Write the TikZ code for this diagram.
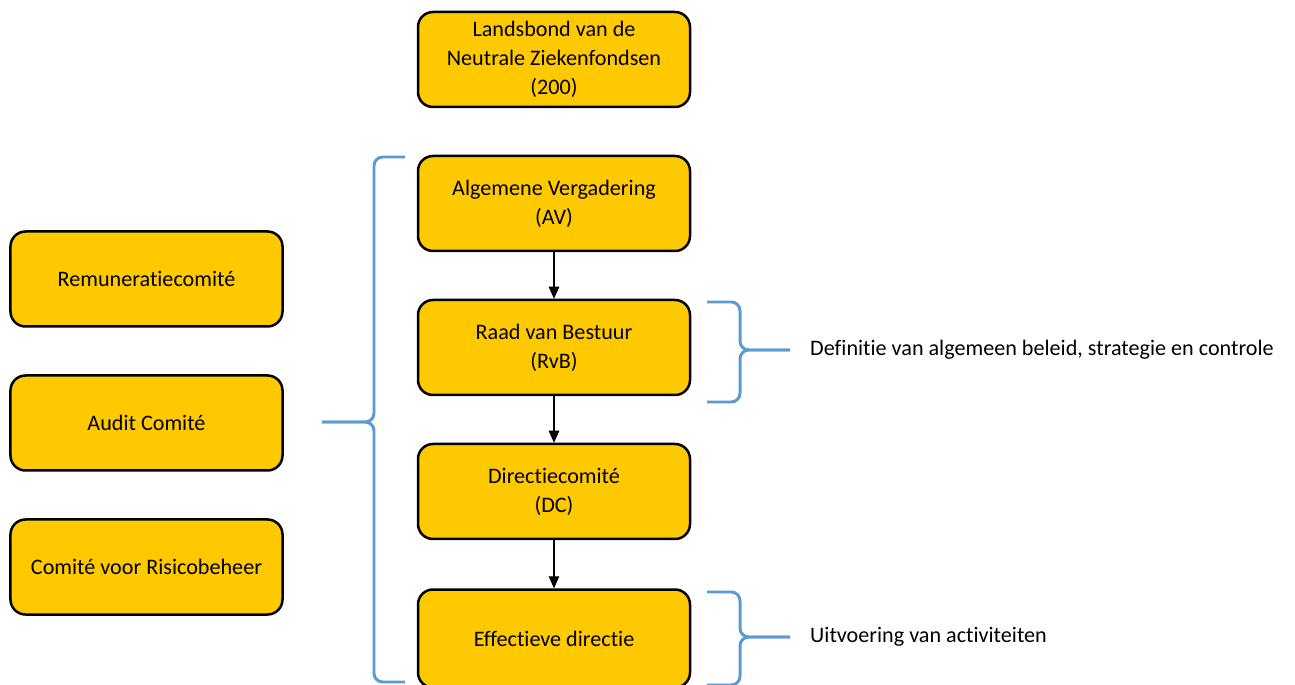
\documentclass[tikz,border=0pt]{standalone}
\usepackage{fontspec}
\setmainfont{Carlito}[Ligatures=NoCommon]
\usepackage{tikz}
\usetikzlibrary{positioning}
\usetikzlibrary{arrows.meta}
\definecolor{boxyellow}{RGB}{255,201,0}
\definecolor{braceblue}{RGB}{91,155,213}
\tikzset{
unit/.style = {rectangle, draw, fill=boxyellow, line width=0.05cm, align=center, minimum width=5.44cm, minimum height=1.9cm, rounded corners=0.3cm, font=\fontsize{12.6}{16.5}\selectfont},
line/.style = {draw, line width=0.6pt, -{Triangle[length=2.4mm,width=2.1mm]}},
brace/.style = {draw=braceblue, line width=1.7pt, rounded corners=5pt},
note/.style = {anchor=west, font=\fontsize{12.6}{16.5}\selectfont}
}

\begin{document}
\begin{tikzpicture}
    \useasboundingbox (0,0) rectangle (25.9,13.68);
    \node [unit] (lnz) at (11.08,12.49) {Landsbond van de\\Neutrale Ziekenfondsen\\(200)};
    \node [unit, below=0.93cm of lnz] (av) {Algemene Vergadering\\(AV)};
    \node [unit, below=0.93cm of av] (rvb) {Raad van Bestuur\\(RvB)};
    \node [unit, below=0.93cm of rvb] (dc) {Directiecomit\'e\\(DC)};
    \node [unit, below=0.96cm of dc, minimum height=1.96cm] (ed) {Effectieve directie};

    \node [unit] (rem) at (2.93,8.1) {Remuneratiecomit\'e};
    \node [unit, below=0.93cm of rem] (audit) {Audit Comit\'e};
    \node [unit, below=0.93cm of audit] (risk) {Comit\'e voor Risicobeheer};

    \node [note] (beleid) at (16.08,6.68) {Definitie van algemeen beleid, strategie en controle};
    \node [note] (uitv) at (16.08,0.94) {Uitvoering van activiteiten};

    \path [line] (av) -- (rvb);
    \path [line] (rvb) -- (dc);
    \path [line] (dc) -- (ed);

    % braces
    \draw [brace] (8.1,10.54) -| (7.48,5.24) -- (6.44,5.24);
    \draw [brace] (6.44,5.24) -- (7.48,5.24) |- (8.1,0.04);
    \draw [brace] (14.14,7.64) -| (14.8,6.68) -- (15.8,6.68);
    \draw [brace] (15.8,6.68) -- (14.8,6.68) |- (14.14,5.64);
    \draw [brace] (14.14,1.84) -| (14.8,0.94) -- (15.8,0.94);
    \draw [brace] (15.8,0.94) -- (14.8,0.94) |- (14.14,-0.02);
\end{tikzpicture}
\end{document}
